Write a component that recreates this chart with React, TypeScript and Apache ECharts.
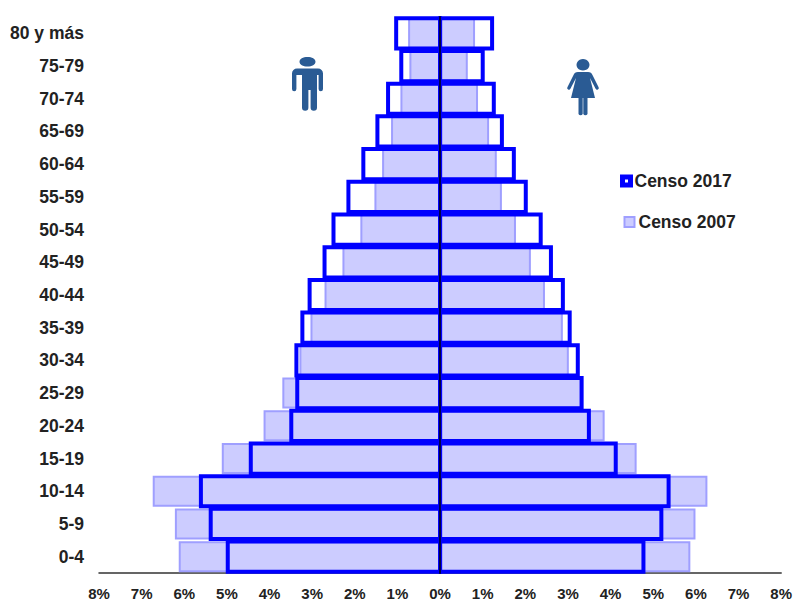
import React, { useEffect, useRef } from "react";
import * as echarts from "echarts";

const ageGroups = ["0-4","5-9","10-14","15-19","20-24","25-29","30-34","35-39","40-44","45-49","50-54","55-59","60-64","65-69","70-74","75-79","80 y más"];
const men2007 = [6.13,6.22,6.74,5.12,4.14,3.7,3.3,3.04,2.71,2.29,1.87,1.54,1.36,1.15,0.93,0.72,0.75];
const women2007 = [5.87,5.99,6.27,4.61,3.86,3.32,3.02,2.88,2.46,2.13,1.78,1.45,1.33,1.15,0.89,0.65,0.82];
const men2017 = [4.98,5.38,5.61,4.44,3.49,3.35,3.37,3.23,3.06,2.71,2.5,2.15,1.8,1.47,1.22,0.91,1.03];
const women2017 = [4.77,5.19,5.36,4.12,3.49,3.32,3.23,3.04,2.88,2.6,2.36,2.01,1.73,1.45,1.26,1.0,1.22];
const xTicks = [-8,8];
const series2017 = "Censo 2017";
const series2007 = "Censo 2007";

const FONT = "'Liberation Sans', Arial, sans-serif";
const manPath = "M16.5 0c4.5 0 8 2 8 4.8s-3.5 4.8-8 4.8-8-2-8-4.8S12 0 16.5 0ZM6 11.5h21a5 5 0 0 1 5 5V32a2.2 2.2 0 0 1-4.4 0V18h-1.6v32.5a3 3 0 0 1-6.4 0V33h-2.2v17.5a3 3 0 0 1-6.4 0V18H5.4v14A2.2 2.2 0 0 1 1 32V16.5a5 5 0 0 1 5-5Z";
const womanPath = "M16 0a6.5 5.8 0 1 1-.01 0ZM11 13h10c2.5 0 3.6 1.2 4.6 3.2l6 12a1.7 1.7 0 0 1-3 1.6L23 19l5 20h-7.5v16a2.4 2.4 0 0 1-4.2 0V39h-.6v16a2.4 2.4 0 0 1-4.2 0V39H4l5-20-5.6 10.8a1.7 1.7 0 0 1-3-1.6l6-12C7.4 14.2 8.5 13 11 13Z";

echarts.graphic.registerShape("manIcon", echarts.graphic.extendPath(manPath, {}) as any);
echarts.graphic.registerShape("womanIcon", echarts.graphic.extendPath(womanPath, {}) as any);

// Outline of a 2017 bar, stroked on its edge so that it straddles the zero line.
const outlineItem = (params: any, api: any) => {
  const start = api.coord([0, api.value(1)]);
  const end = api.coord([api.value(0), api.value(1)]);
  const height = api.size([0, 1])[1] - 2.5;
  return {
    type: "rect",
    shape: { x: Math.min(start[0], end[0]), y: start[1] - height / 2, width: Math.abs(end[0] - start[0]), height },
    style: { fill: "none", stroke: "#0000ff", lineWidth: 4 },
  };
};

export default function App() {
  const ref = useRef<HTMLDivElement>(null);
  useEffect(() => {
    const chart = echarts.init(ref.current!, undefined, { renderer: "svg" });
    const style2007 = { color: "#ccccff", borderColor: "#9f9fff", borderWidth: 2 };
    const bar = { type: "bar", barGap: "-100%", barWidth: 31, itemStyle: style2007, z: 2 };
    const outline = {
      type: "custom", renderItem: outlineItem, z: 3, clip: false,
      encode: { x: 0, y: 1 }, itemStyle: { color: "#0000ff" },
    };
    chart.setOption({
      animation: false,
      backgroundColor: "#ffffff",
      grid: { left: 99, right: 12, top: 17, bottom: 28, containLabel: false },
      xAxis: {
        type: "value", min: xTicks[0], max: xTicks[1], interval: 1,
        splitLine: { show: false },
        axisTick: { show: false },
        axisLine: { show: true, onZero: false, lineStyle: { color: "#333333", width: 1.5 } },
        axisLabel: {
          margin: 13, color: "#222222", fontFamily: FONT, fontWeight: "bold", fontSize: 15,
          formatter: (v: number) => Math.abs(v) + "%",
        },
      },
      yAxis: [
        {
          type: "category", data: ageGroups,
          axisLine: { show: false, onZero: false }, axisTick: { show: false },
          axisLabel: { margin: 15, color: "#222222", fontFamily: FONT, fontWeight: "bold", fontSize: 17.5 },
        },
        {
          type: "category", data: ageGroups, position: "left", z: 10,
          axisLine: { show: true, onZero: true, lineStyle: { color: "#00004d", width: 2 } },
          axisTick: { show: false }, axisLabel: { show: false },
        },
      ],
      legend: [
        {
          left: 615, top: 167, orient: "vertical", data: [series2017], selectedMode: false,
          itemWidth: 8, itemHeight: 8, itemGap: 0, icon: "rect",
          textStyle: { fontFamily: FONT, fontWeight: "bold", fontSize: 17.5, color: "#222222", padding: [0, 0, 0, -1] },
          itemStyle: { color: "#ffffff", borderColor: "#0000ff", borderWidth: 5 },
        },
        {
          left: 618.5, top: 208, orient: "vertical", data: [series2007], selectedMode: false,
          itemWidth: 10, itemHeight: 10, itemGap: 0, icon: "rect",
          textStyle: { fontFamily: FONT, fontWeight: "bold", fontSize: 17.5, color: "#222222", padding: [0, 0, 0, -1] },
          itemStyle: { color: "#ccccff", borderColor: "#9f9fff", borderWidth: 2 },
        },
      ],
      graphic: [
        { type: "manIcon", x: 291, y: 57, style: { fill: "#2a5b94" } },
        { type: "womanIcon", x: 567, y: 59, style: { fill: "#2a5b94" } },
      ],
      series: [
        { ...bar, name: series2007, data: men2007.map((v) => -v) },
        { ...bar, name: series2007, data: women2007 },
        { ...outline, name: series2017, data: men2017.map((v, i) => [-v, i]) },
        { ...outline, name: series2017, data: women2017.map((v, i) => [v, i]) },
      ],
    });
    return () => chart.dispose();
  }, []);
  return <div ref={ref} style={{ position: "fixed", left: 0, top: 0, width: 795, height: 601 }} />;
}
